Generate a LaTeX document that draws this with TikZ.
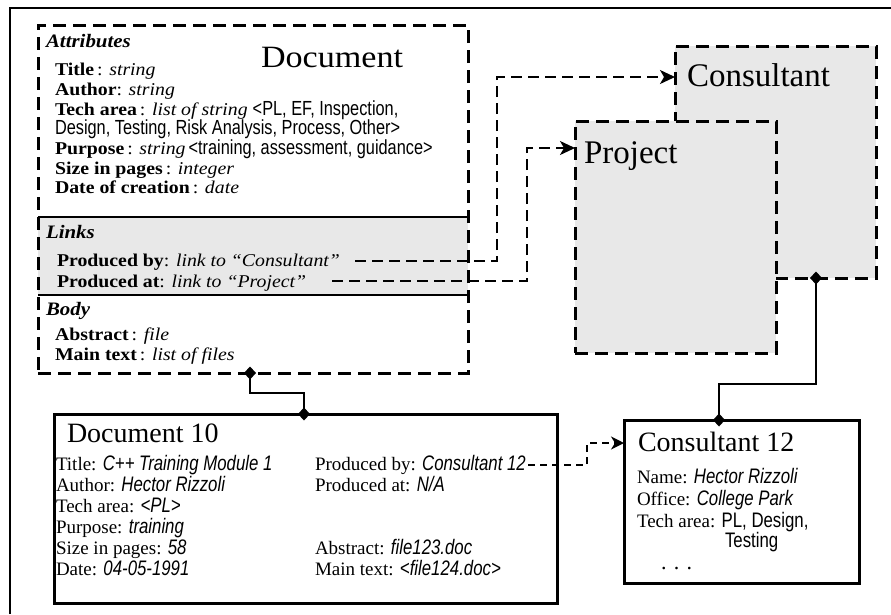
\documentclass[tikz,border=0pt]{standalone}
\usepackage{fontspec}
\setmainfont{Liberation Serif}
\newfontfamily\wserif[FakeStretch=1.1]{Liberation Serif}
\newfontfamily\nsans[FakeStretch=0.8]{Liberation Sans}
\usetikzlibrary{arrows.meta,shapes.geometric}
\definecolor{boxgray}{RGB}{232,232,232}
% narrow sans helpers
\newcommand{\SchemaSans}[1]{{\nsans\fontsize{20.4}{20}\selectfont #1}}
\newcommand{\NarrowIt}[1]{{\nsans\itshape\fontsize{21}{20}\selectfont #1}}
\newcommand{\NarrowUp}[1]{{\nsans\fontsize{21}{20}\selectfont #1}}
\tikzset{
  every node/.style={inner sep=0pt, outer sep=0pt},
  txt/.style={anchor=base west},
  schemafont/.style={font=\wserif\fontsize{18}{20}\selectfont},
  hdrfont/.style={font=\wserif\bfseries\itshape\fontsize{19}{20}\selectfont},
  instfont/.style={font=\fontsize{19}{20}\selectfont},
  dashbox/.style={draw, line width=3pt, dash pattern=on 13pt off 7pt, anchor=north west},
  classbox/.style={dashbox, fill=boxgray},
  instbox/.style={draw, line width=3pt, fill=white, anchor=north west},
  link/.style={line width=1.8pt, dash pattern=on 11pt off 6pt},
  ilink/.style={line width=1.8pt, dash pattern=on 7pt off 5pt},
  arrowed/.style={-{Stealth[length=15pt,width=14pt,inset=4pt]}},
  conn/.style={line width=1.8pt},
  dia/.style={diamond, fill=black, minimum width=12pt, minimum height=13pt},
}
\begin{document}
\begin{tikzpicture}[x=1pt,y=-1pt]
\useasboundingbox (0,0) rectangle (891,614);

% outer frame
\draw[line width=2pt] (10,614) -- (10,8) -- (891,8);

% ---- class schema: Document ----
\node[fill=boxgray, minimum width=430pt, minimum height=78pt, anchor=north west] (linkband) at (38,217) {};
\node[dashbox, minimum width=430pt, minimum height=348pt] (schema) at (38,25) {};
\draw[line width=2pt] (linkband.north west) -- (linkband.north east);
\draw[line width=2pt] (linkband.south west) -- (linkband.south east);

\node[txt, font=\wserif\fontsize{31}{31}\selectfont] (schematitle) at (261,67) {Document};

\node[txt, hdrfont] (attrhdr) at (46,47) {Attributes};
\node[txt, schemafont] (aTitle) at (55,75) {\textbf{Title}\,: \textit{string}};
\node[txt, schemafont] (aAuthor) at (55,95) {\textbf{Author}: \textit{string}};
\node[txt, schemafont] (aTech) at (55,115) {\textbf{Tech area}\,: \textit{list of string} \SchemaSans{<PL, EF, Inspection,}};
\node[txt, schemafont] (aTech2) at (55,134) {\SchemaSans{Design, Testing, Risk Analysis, Process, Other>}};
\node[txt, schemafont] (aPurpose) at (55,154) {\textbf{Purpose}\,: \textit{string}\,\SchemaSans{<training, assessment, guidance>}};
\node[txt, schemafont] (aSize) at (55,174) {\textbf{Size in pages}\,: \textit{integer}};
\node[txt, schemafont] (aDate) at (55,193) {\textbf{Date of creation}\,: \textit{date}};

\node[txt, hdrfont] (linkhdr) at (46,238) {Links};
\node[txt, schemafont] (lby) at (57,266) {\textbf{Produced by}: \textit{link to “Consultant”}};
\node[txt, schemafont] (lat) at (57,287) {\textbf{Produced at}: \textit{link to “Project”}};

\node[txt, hdrfont] (bodyhdr) at (46,315) {Body};
\node[txt, schemafont] (bAbstract) at (55,340) {\textbf{Abstract}\,: \textit{file}};
\node[txt, schemafont] (bMain) at (55,360) {\textbf{Main text}\,: \textit{list of files}};

% ---- class schemas: Consultant and Project ----
\node[classbox, minimum width=201pt, minimum height=232pt] (consultant) at (675,46) {};
\node[txt, font=\fontsize{33}{33}\selectfont] (consultantname) at (687,86) {Consultant};
\node[classbox, minimum width=201pt, minimum height=232pt] (project) at (575,121) {};
\node[txt, font=\fontsize{33}{33}\selectfont] (projectname) at (584,163) {Project};

% link attributes pointing at their target classes
\coordinate (lbyend) at (355,261);
\coordinate (cturn) at (497,77);
\draw[link, arrowed] (lbyend) -| (cturn) -- ([yshift=-31pt]consultant.north west);
\coordinate (latend) at (332,281);
\coordinate (pturn) at (527,148);
\draw[link, arrowed] (latend) -| (pturn) -- ([yshift=-27pt]project.north west);

% ---- instance: Document 10 ----
\node[instbox, minimum width=503pt, minimum height=189pt] (doc10) at (54,414) {};
\node[txt, font=\fontsize{28}{28}\selectfont] (doc10name) at (67,442) {Document 10};
\node[txt, instfont] (dTitle) at (56,470) {Title: \NarrowIt{C++ Training Module 1}};
\node[txt, instfont] (dAuthor) at (56,491) {Author: \NarrowIt{Hector Rizzoli}};
\node[txt, instfont] (dTech) at (56,512) {Tech area: \NarrowIt{<PL>}};
\node[txt, instfont] (dPurpose) at (56,533) {Purpose: \NarrowIt{training}};
\node[txt, instfont] (dSize) at (56,554) {Size in pages: \NarrowIt{58}};
\node[txt, instfont] (dDate) at (56,575) {Date: \NarrowIt{04-05-1991}};
\node[txt, instfont] (dBy) at (315,470) {Produced by: \NarrowIt{Consultant 12}};
\node[txt, instfont] (dAt) at (315,491) {Produced at: \NarrowIt{N/A}};
\node[txt, instfont] (dAbstract) at (315,554) {Abstract: \NarrowIt{file123.doc}};
\node[txt, instfont] (dMain) at (315,575) {Main text: \NarrowIt{<file124.doc>}};

% ---- instance: Consultant 12 ----
\node[instbox, minimum width=235pt, minimum height=163pt] (c12) at (624,420) {};
\node[txt, font=\fontsize{28}{28}\selectfont] (c12name) at (638,451) {Consultant 12};
\node[txt, instfont] (cName) at (637,483) {Name: \NarrowIt{Hector Rizzoli}};
\node[txt, instfont] (cOffice) at (637,505) {Office: \NarrowIt{College Park}};
\node[txt, instfont] (cTech) at (637,527) {Tech area: \NarrowUp{PL, Design,}};
\node[txt, instfont] (cTech2) at (725,547) {\NarrowUp{Testing}};
\node[txt, font=\fontsize{22}{22}\selectfont] (cMore) at (661,569) {. . .};

% instance link
\coordinate (ibyend) at (528,465);
\coordinate (iturn) at (587,443);
\draw[ilink, -{Stealth[length=13pt,width=13pt,inset=4pt]}] (ibyend) -| (iturn) -- ([yshift=-23pt]c12.north west);

% instance-of connectors with diamonds
\node[dia] (schemadia) at ([xshift=212pt]schema.south west) {};
\node[dia] (d10dia) at ([xshift=250pt]doc10.north west) {};
\node[dia] (consdia) at ([xshift=141pt]consultant.south west) {};
\node[dia] (c12dia) at ([xshift=95pt]c12.north west) {};
\coordinate (elbowA) at (277,393);
\draw[conn] (schemadia.center) |- (elbowA) -| (d10dia.center);
\coordinate (elbowB) at (760,384);
\draw[conn] (consdia.center) |- (elbowB) -| (c12dia.center);
\end{tikzpicture}
\end{document}
